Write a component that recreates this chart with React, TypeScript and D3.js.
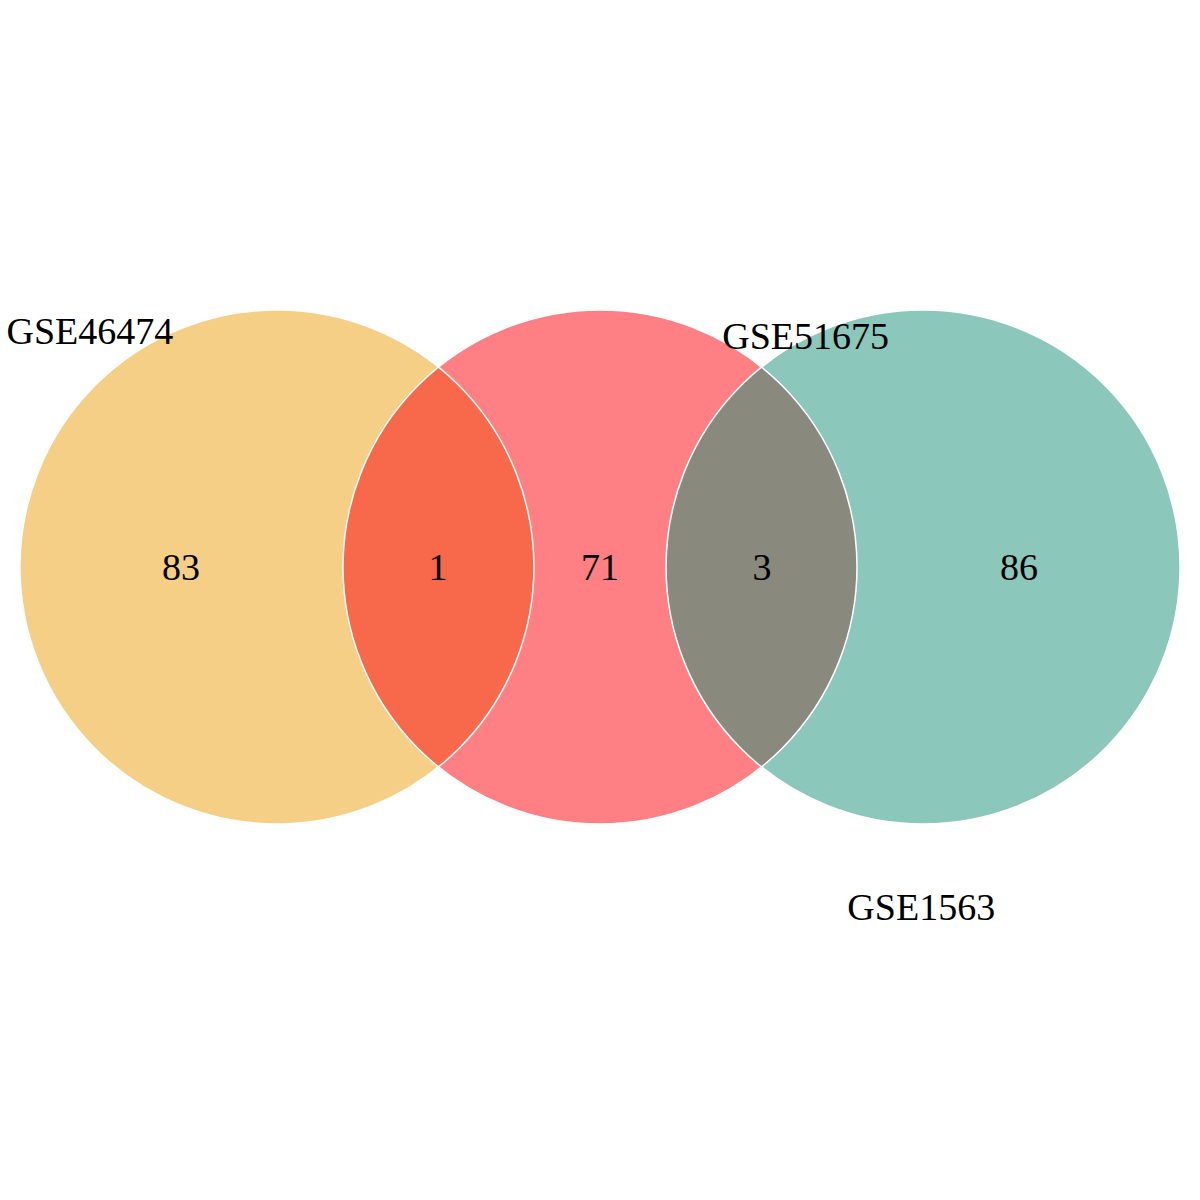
import * as d3 from "d3";

// Sets, their circle centres (in chart units) and colours
const setNames = ["GSE46474", "GSE51675", "GSE1563"];
const setCenters = [-1.257, 0, 1.257];
const setColors = ["#F6CF87", "#FF8084", "#8CC7BC"];
const setLabelPos: [number, number][] = [
  [-1.985, 0.92],
  [0.8, 0.9],
  [1.25, -1.32],
];
const overlapColors = ["#F7694A", "#89897E"];

// Region counts: [x position, label]
const regionX = [-1.63, -0.63, 0, 0.63, 1.63];
const regionCounts = ["83", "1", "71", "3", "86"];

const W = 1200;
const R = 257;

export default function App() {
  const x = d3.scaleLinear().domain([-1, 1]).range([600 - R, 600 + R]);
  const y = d3.scaleLinear().domain([-1, 1]).range([567 + R, 567 - R]);
  const font = "'Liberation Serif', 'Times New Roman', serif";

  return (
    <svg width={W} height={W} style={{ position: "absolute", left: 0, top: 0 }}>
      <rect width={W} height={W} fill="#fff" />
      <defs>
        {setCenters.map((c, i) => (
          <clipPath id={`clip${i}`} key={i}>
            <circle cx={x(c)} cy={y(0)} r={R} />
          </clipPath>
        ))}
      </defs>
      {setCenters.map((c, i) => (
        <circle key={i} cx={x(c)} cy={y(0)} r={R} fill={setColors[i]} />
      ))}
      {overlapColors.map((col, i) => (
        <circle
          key={i}
          cx={x(setCenters[i + 1])}
          cy={y(0)}
          r={R}
          fill={col}
          clipPath={`url(#clip${i})`}
        />
      ))}
      {setCenters.map((c, i) => (
        <circle key={i} cx={x(c)} cy={y(0)} r={R} fill="none" stroke="#fff" strokeWidth={1.5} />
      ))}
      {regionCounts.map((t, i) => (
        <text
          key={i}
          x={x(regionX[i])}
          y={y(0)}
          dy="0.35em"
          textAnchor="middle"
          fontFamily={font}
          fontSize={38}
        >
          {t}
        </text>
      ))}
      {setNames.map((n, i) => (
        <text
          key={n}
          x={x(setLabelPos[i][0])}
          y={y(setLabelPos[i][1])}
          dy="0.35em"
          textAnchor="middle"
          fontFamily={font}
          fontSize={38}
        >
          {n}
        </text>
      ))}
    </svg>
  );
}
